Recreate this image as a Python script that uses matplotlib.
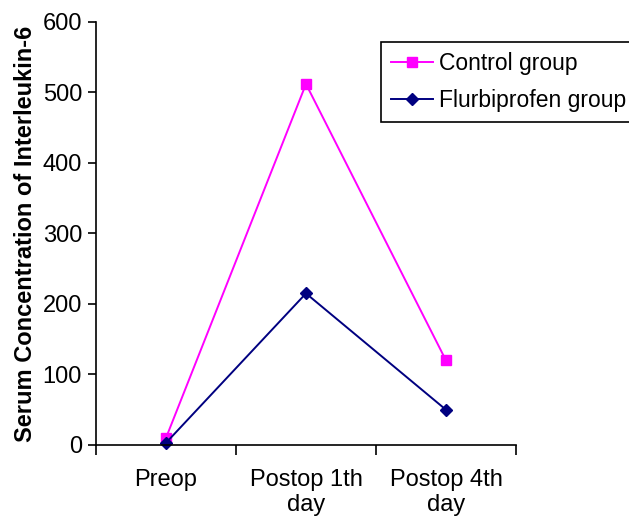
import numpy as np
import matplotlib.pyplot as plt

plt.rcParams['font.family'] = ['Liberation Sans', 'DejaVu Sans']
plt.rcParams['font.size'] = 17

categories = ['Preop', 'Postop 1th\nday', 'Postop 4th\nday']
control = [10, 512, 120]
flurbi = [3, 215, 50]

fig = plt.figure(figsize=(6.29, 5.16), dpi=100)
ax = fig.add_axes([0.1526, 0.1376, 0.8203 - 0.1526, 0.9574 - 0.1376])
x = np.arange(len(categories))

ax.plot(x, control, color='#ff00ff', marker='s', markersize=7, linewidth=1.4,
        label='Control group', clip_on=False)
ax.plot(x, flurbi, color='#000080', marker='D', markersize=6, linewidth=1.4,
        label='Flurbiprofen group', clip_on=False)

ax.set_xlim(-0.5, 2.5)
ax.set_ylim(0, 600)
ax.set_yticks(range(0, 601, 100))
ax.set_xticks([-0.5, 0.5, 1.5, 2.5])
ax.set_xticklabels([])
ax.set_xticks(x, minor=True)
ax.set_xticklabels(categories, minor=True)
ax.tick_params(axis='x', which='major', length=7, width=1.2, direction='out')
ax.tick_params(axis='x', which='minor', length=0, pad=17)
ax.tick_params(axis='y', length=6, width=1.2, direction='out', pad=4)
ax.spines['top'].set_visible(False)
ax.spines['right'].set_visible(False)
ax.spines['left'].set_linewidth(1.2)
ax.spines['bottom'].set_linewidth(1.2)
ax.set_ylabel('Serum Concentration of Interleukin-6', fontweight='bold', labelpad=4)

leg = ax.legend(loc='upper left', bbox_to_anchor=(381 / 629, 1 - 42 / 516),
                bbox_transform=fig.transFigure, fancybox=False, framealpha=1,
                edgecolor='black', handlelength=1.8, borderaxespad=0,
                borderpad=0.45, labelspacing=0.6, handletextpad=0.3,
                fontsize=16.5)
leg.get_frame().set_linewidth(1.2)

fig.savefig('out.png', dpi=100)
